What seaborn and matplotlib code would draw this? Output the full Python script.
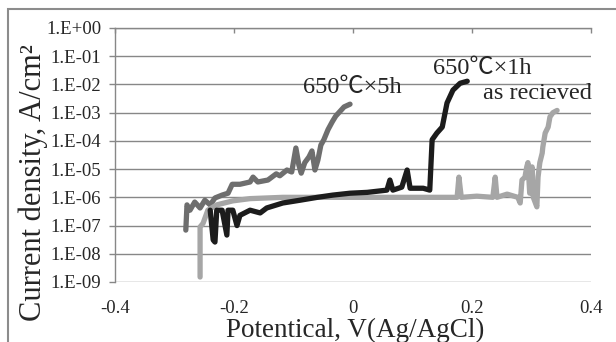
import numpy as np
import pandas as pd
import matplotlib
matplotlib.use("Agg")
import matplotlib.pyplot as plt
import matplotlib.ticker as mticker
from matplotlib.patches import Rectangle
import seaborn as sns

# Polarization curves (potential V vs Ag/AgCl, current density A/cm2)
v_5h = [-0.281, -0.279, -0.274, -0.266, -0.257, -0.249, -0.240, -0.232, -0.220, -0.210,
        -0.203, -0.190, -0.173, -0.168, -0.160, -0.143, -0.129, -0.123, -0.111, -0.103,
        -0.096, -0.091, -0.087, -0.081, -0.074, -0.069, -0.064, -0.059, -0.054, -0.049,
        -0.042, -0.035, -0.029, -0.022, -0.015, -0.005]
i_5h = [6.9e-8, 5.4e-7, 3.5e-7, 6.8e-7, 4.2e-7, 7.9e-7, 5.4e-7, 9.5e-7, 1.2e-6, 1.4e-6,
        2.9e-6, 2.9e-6, 3.5e-6, 5.2e-6, 3.5e-6, 4.1e-6, 6.8e-6, 5.8e-6, 9.3e-6, 7.9e-6,
        5.6e-5, 1.4e-5, 7.2e-6, 1.7e-5, 2.7e-5, 4.4e-5, 9.3e-6, 2.1e-5, 7.1e-5, 1.1e-4,
        2.5e-4, 4.7e-4, 7.6e-4, 1.1e-3, 1.6e-3, 2.0e-3]

v_1h = [-0.240, -0.235, -0.232, -0.229, -0.220, -0.212, -0.210, -0.202, -0.195, -0.190,
        -0.173, -0.156, -0.145, -0.118, -0.089, -0.060, -0.034, -0.005, 0.024, 0.057,
        0.062, 0.067, 0.082, 0.091, 0.096, 0.118, 0.129, 0.133, 0.141, 0.150,
        0.158, 0.168, 0.180, 0.192]
i_1h = [3.5e-7, 3.1e-8, 2.6e-8, 3.5e-7, 3.5e-7, 4.6e-8, 3.5e-7, 3.5e-7, 1.0e-7, 2.3e-7,
        3.5e-7, 2.8e-7, 4.2e-7, 6.3e-7, 7.9e-7, 1.0e-6, 1.2e-6, 1.4e-6, 1.5e-6, 1.8e-6,
        4.1e-6, 1.8e-6, 2.3e-6, 9.3e-6, 2.1e-6, 2.1e-6, 1.8e-6, 1.1e-4, 1.9e-4, 3.1e-4,
        2.2e-3, 6.3e-3, 1.1e-2, 1.3e-2]

v_ar = [-0.257, -0.257, -0.252, -0.244, -0.229, -0.202, -0.173, -0.118, -0.089, -0.005,
        0.079, 0.134, 0.175, 0.178, 0.182, 0.208, 0.235, 0.239, 0.242, 0.259,
        0.277, 0.281, 0.284, 0.289, 0.292, 0.294, 0.297, 0.301, 0.303, 0.309,
        0.311, 0.314, 0.318, 0.319, 0.323, 0.328, 0.331, 0.336, 0.343]
i_ar = [1.5e-9, 8.9e-8, 1.2e-7, 3.5e-7, 5.4e-7, 7.5e-7, 9.0e-7, 1.0e-6, 1.0e-6, 1.0e-6,
        1.0e-6, 1.0e-6, 1.0e-6, 5.2e-6, 1.0e-6, 1.1e-6, 1.0e-6, 5.2e-6, 1.0e-6, 1.3e-6,
        1.0e-6, 6.3e-7, 4.1e-6, 5.2e-6, 1.2e-5, 1.7e-5, 1.4e-6, 1.2e-5, 1.0e-6, 4.6e-7,
        5.2e-6, 1.7e-5, 3.7e-5, 6.0e-5, 1.9e-4, 3.1e-4, 7.1e-4, 1.0e-3, 1.2e-3]

x_ticks = [-0.4, -0.2, 0, 0.2, 0.4]
x_tick_labels = ["-0.4", "-0.2", "0", "0.2", "0.4"]

sns.set_style("white")
plt.rcParams["font.family"] = ["Liberation Serif", "Noto Sans CJK JP"]

grid_gray = "#878787"

fig = plt.figure(figsize=(6.16, 3.42), dpi=100)
ax = fig.add_axes([115 / 616, 1 - 282 / 342, 476 / 616, 254 / 342])

line_kw = dict(sort=False, estimator=None, lw=3.8, solid_capstyle="round",
               solid_joinstyle="round", ax=ax)
sns.lineplot(x=v_5h, y=i_5h, color="#6e6e6e", **line_kw)
sns.lineplot(x=v_ar, y=i_ar, color="#a6a6a6", **line_kw)
sns.lineplot(x=v_1h, y=i_1h, color="#1c1c1c", **line_kw)

ax.set_yscale("log")
ax.set_ylim(1e-9, 1e0)
ax.set_xlim(-0.4, 0.4)
ax.yaxis.set_major_locator(mticker.LogLocator(base=10, numticks=20))
ax.yaxis.set_minor_locator(mticker.NullLocator())
ax.yaxis.set_major_formatter(mticker.FuncFormatter(
    lambda v, p: "1.E{:+03d}".format(int(round(np.log10(v))))))
ax.set_xticks(x_ticks)
ax.set_xticklabels(x_tick_labels)

ax.grid(axis="y", color=grid_gray, lw=1.0)
ax.grid(axis="x", visible=False)
for side in ["right", "bottom"]:
    ax.spines[side].set_visible(False)
for side in ["left", "top"]:
    ax.spines[side].set_color(grid_gray)
    ax.spines[side].set_linewidth(1.0)

ax.tick_params(axis="y", left=True, direction="out", length=4, width=1,
               color=grid_gray, labelsize=13.5, pad=6)
ax.tick_params(axis="x", top=True, bottom=False, labeltop=False, labelbottom=True,
               direction="in", length=3.5, width=1, color=grid_gray,
               labelsize=13.5, pad=13)

ax.set_xlabel("Potentical, V(Ag/AgCl)", fontsize=19.5)
ax.set_ylabel("Current density, A/cm²", fontsize=22)
ax.xaxis.set_label_coords(0.504, -0.192)
ax.xaxis.label.set_va("center")
ax.yaxis.set_label_coords(-0.172, 0.39)
ax.yaxis.label.set_va("center")

ax.text(-0.084, 8.1e-3, "650℃×5h", fontsize=17.5, ha="left", va="center")
ax.text(0.134, 3.8e-2, "650℃×1h", fontsize=17.5, ha="left", va="center")
ax.text(0.402, 4.6e-3, "as recieved", fontsize=17.5, ha="right", va="center")

fig.add_artist(Rectangle((8 / 616, -0.1), 1.0, 1.1 - 9.5 / 342,
                         transform=fig.transFigure, fill=False,
                         edgecolor="#8c8c8c", lw=1.5))

fig.savefig("out.png", dpi=100, facecolor="white")
plt.close(fig)
